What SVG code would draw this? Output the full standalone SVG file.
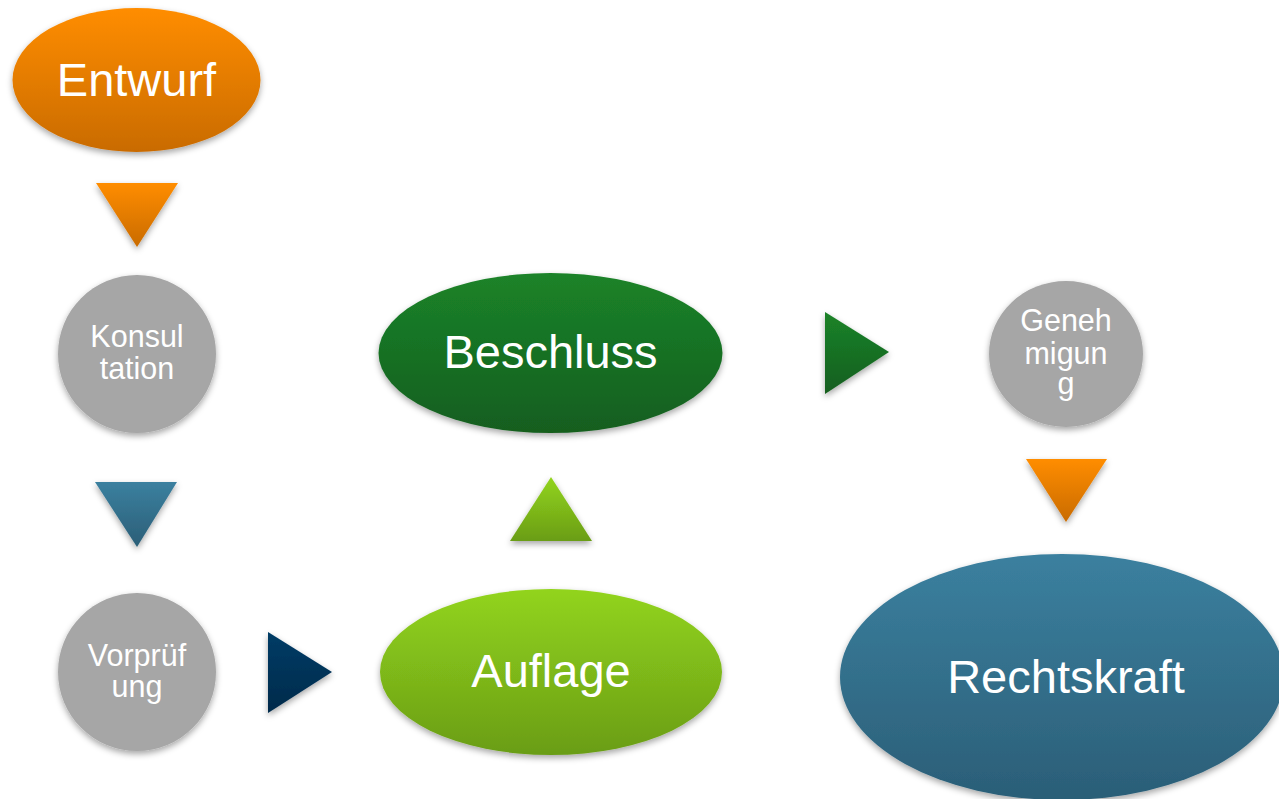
<svg xmlns="http://www.w3.org/2000/svg" width="1279" height="799" viewBox="0 0 1279 799">
<defs>
<linearGradient id="gOrange" x1="0" y1="0" x2="0" y2="1"><stop offset="0" stop-color="#ff8d02"/><stop offset="1" stop-color="#c96b05"/></linearGradient>
<linearGradient id="gDkGreen" x1="0" y1="0" x2="0" y2="1"><stop offset="0" stop-color="#1b8329"/><stop offset="1" stop-color="#145e1f"/></linearGradient>
<linearGradient id="gLtGreen" x1="0" y1="0" x2="0" y2="1"><stop offset="0" stop-color="#92d41d"/><stop offset="1" stop-color="#6a9d16"/></linearGradient>
<linearGradient id="gBlue" x1="0" y1="0" x2="0" y2="1"><stop offset="0" stop-color="#3b809f"/><stop offset="1" stop-color="#2b5e77"/></linearGradient>
<linearGradient id="gNavy" x1="0" y1="0" x2="0" y2="1"><stop offset="0" stop-color="#053c66"/><stop offset="1" stop-color="#022a4a"/></linearGradient>
<filter id="sh" x="-20%" y="-20%" width="140%" height="150%"><feDropShadow dx="0" dy="3" stdDeviation="3" flood-color="#000" flood-opacity="0.35"/></filter>
</defs>
<style>
.lbl{font-family:"Liberation Sans",Arial,sans-serif;fill:#fff;text-anchor:middle}
.big{font-size:47px}
.small{font-size:30.5px}
.gray{fill:#a6a6a6}
</style>
<rect width="1279" height="799" fill="#fff"/>
<g id="connectors" filter="url(#sh)">
<polygon points="96,183 178,183 137,247" fill="url(#gOrange)"/>
<polygon points="95,482 177,482 137,547" fill="url(#gBlue)"/>
<polygon points="268,632 332,672 268,713" fill="url(#gNavy)"/>
<polygon points="551,477 592,541 510,541" fill="url(#gLtGreen)"/>
<polygon points="825,312 889,352 825,394" fill="url(#gDkGreen)"/>
<polygon points="1026,459 1107,459 1066,522" fill="url(#gOrange)"/>
</g>
<g id="entwurf"><ellipse cx="136.5" cy="80" rx="124" ry="72" fill="url(#gOrange)" filter="url(#sh)"/><text class="lbl big" x="136.5" y="96">Entwurf</text></g>
<g id="konsultation"><circle cx="137" cy="354" r="79" class="gray" filter="url(#sh)"/><text class="lbl small" x="137" y="347">Konsul</text><text class="lbl small" x="137" y="379">tation</text></g>
<g id="vorpruefung"><circle cx="137" cy="672" r="79" class="gray" filter="url(#sh)"/><text class="lbl small" x="137" y="666">Vorprüf</text><text class="lbl small" x="137" y="697">ung</text></g>
<g id="auflage"><ellipse cx="551" cy="672" rx="171" ry="83" fill="url(#gLtGreen)" filter="url(#sh)"/><text class="lbl big" x="551" y="687">Auflage</text></g>
<g id="beschluss"><ellipse cx="550.5" cy="353" rx="172" ry="80" fill="url(#gDkGreen)" filter="url(#sh)"/><text class="lbl big" x="550.5" y="368">Beschluss</text></g>
<g id="genehmigung"><ellipse cx="1066" cy="354" rx="77" ry="73" class="gray" filter="url(#sh)"/><text class="lbl small" x="1066" y="331">Geneh</text><text class="lbl small" x="1066" y="364">migun</text><text class="lbl small" x="1066" y="394">g</text></g>
<g id="rechtskraft"><ellipse cx="1062" cy="677" rx="222" ry="123" fill="url(#gBlue)" filter="url(#sh)"/><text class="lbl big" x="1066" y="693">Rechtskraft</text></g>
</svg>
